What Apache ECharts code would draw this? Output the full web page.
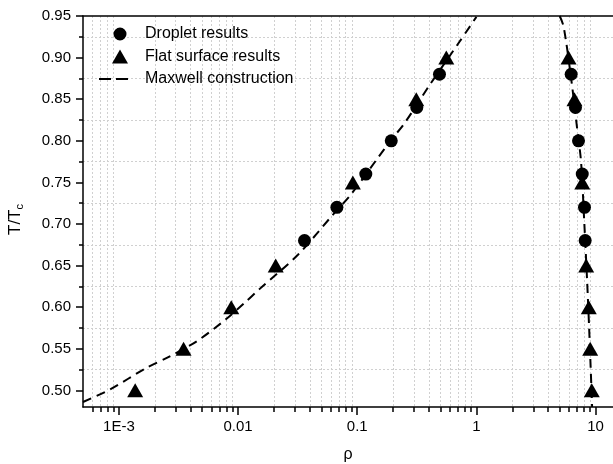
<!DOCTYPE html>
<html>
<head>
<meta charset="utf-8">
<script src="https://cdn.jsdelivr.net/npm/echarts@6/dist/echarts.min.js"></script>
<style>html,body{margin:0;padding:0;background:#fff}#c{width:613px;height:464px}</style>
</head>
<body>
<div id="c"></div>
<script>
// ---- data ----
const dropletLeft  = [[0.0361,0.68],[0.0675,0.72],[0.118,0.76],[0.193,0.80],[0.316,0.84],[0.49,0.88]];
const dropletRight = [[8.18,0.68],[8.07,0.72],[7.73,0.76],[7.19,0.80],[6.78,0.84],[6.24,0.88]];
const flatLeft  = [[0.00137,0.50],[0.00349,0.55],[0.00877,0.60],[0.0207,0.65],[0.0919,0.75],[0.313,0.85],[0.559,0.90]];
const flatRight = [[9.29,0.50],[9.01,0.55],[8.77,0.60],[8.34,0.65],[7.73,0.75],[6.65,0.85],[5.93,0.90]];
const maxwellLeft = [[5.0e-4,0.486],[8.4e-4,0.501],[1.7e-3,0.527],[2.6e-3,0.540],[4.5e-3,0.559],[8.0e-3,0.586],
  [0.0113,0.605],[0.0152,0.622],[0.0318,0.663],[0.0624,0.711],[0.0891,0.736],[0.15,0.78],[0.19,0.80],
  [0.249,0.821],[0.405,0.867],[0.721,0.919],[1.0,0.949]];
const maxwellRight = [[5.0,0.95],[5.4,0.937],[6.3,0.87],[7.0,0.815],[7.55,0.775],[8.05,0.70],[8.5,0.63],
  [8.8,0.58],[9.05,0.535],[9.3,0.49],[9.35,0.48]];
const xMajorTicks = [0.001,0.01,0.1,1,10];
const xMinorTicks = [6e-4,7e-4,8e-4,9e-4,2e-3,3e-3,4e-3,5e-3,6e-3,7e-3,8e-3,9e-3,
  0.02,0.03,0.04,0.05,0.06,0.07,0.08,0.09,0.2,0.3,0.4,0.5,0.6,0.7,0.8,0.9,
  2,3,4,5,6,7,8,9];
const yMajorTicks = [0.50,0.55,0.60,0.65,0.70,0.75,0.80,0.85,0.90,0.95];
const yMinorTicks = [0.525,0.575,0.625,0.675,0.725,0.775,0.825,0.875,0.925];

const FONT = 'Liberation Sans, Arial, sans-serif';
const chart = echarts.init(document.getElementById('c'), null, {renderer:'canvas'});
const gridLine = {show:true, lineStyle:{color:'#d0d0d0', type:[2,2], width:1}};
const xCommon = {type:'log', logBase:10, min:5e-4, max:14, gridIndex:0};
const yCommon = {type:'value', min:0.48, max:0.95, gridIndex:0};
// legend icons drawn inside a 30x14 box (corner specks fix the box size)
const BOX = ' M0,0h0.01v0.01z M29.99,13.99h0.01v0.01z';
const iconCircle = 'path://M14.5,7a6.5,6.5 0 1,0 13,0a6.5,6.5 0 1,0 -13,0Z' + BOX;
const iconTriangle = 'path://M13,14L21,0L29,14Z' + BOX;
const iconDash = 'path://M0,6h12v2h-12z M17,6h12v2h-12z' + BOX;

chart.setOption({
  animation:false,
  backgroundColor:'#fff',
  textStyle:{fontFamily:FONT},
  grid:{left:83, right:0, top:16, bottom:57, containLabel:false, outerBoundsMode:'none'},
  legend:{
    orient:'vertical', left:94, top:21, itemWidth:30, itemHeight:14, itemGap:6.5,
    textStyle:{fontSize:16, color:'#000', fontFamily:FONT, padding:[0,0,0,11]},
    data:[{name:'Droplet results', icon:iconCircle},{name:'Flat surface results', icon:iconTriangle},{name:'Maxwell construction', icon:iconDash}]
  },
  xAxis:[
    Object.assign({}, xCommon, {
      position:'bottom',
      name:'ρ', nameLocation:'middle', nameGap:40,
      nameTextStyle:{fontSize:16, color:'#000', fontFamily:FONT},
      axisLine:{show:true, onZero:false, lineStyle:{color:'#000', width:1.5}},
      axisTick:{show:true, inside:false, length:8, lineStyle:{color:'#000', width:1.5}},
      axisLabel:{show:true, margin:12, fontSize:15, color:'#000', fontFamily:FONT,
        showMinLabel:false, showMaxLabel:false,
        formatter:function(v){ if (Math.abs(v-0.001)<1e-9) return '1E-3'; const s=String(+v.toPrecision(3)); return xMajorTicks.some(t=>Math.abs(t-v)/t<1e-6)?s:''; }},
      splitLine:{show:false}, minorTick:{show:false}
    }),
    Object.assign({}, xCommon, {
      position:'bottom',
      axisLine:{show:false, onZero:false},
      axisTick:{show:true, inside:false, length:5, customValues:xMinorTicks, lineStyle:{color:'#000', width:1.5}},
      axisLabel:{show:false},
      splitLine:gridLine
    }),
    Object.assign({}, xCommon, {
      position:'top',
      axisLine:{show:true, onZero:false, lineStyle:{color:'#000', width:1.5}},
      axisTick:{show:false}, axisLabel:{show:false}, splitLine:{show:false}
    })
  ],
  yAxis:[
    Object.assign({}, yCommon, {
      position:'left',
      name:'T/T{sub|c}', nameLocation:'middle', nameGap:58, nameRotate:90,
      nameTextStyle:{fontSize:17, color:'#000', fontFamily:FONT, padding:[0,16,0,0],
        rich:{sub:{fontSize:11, color:'#000', fontFamily:FONT, padding:[9,0,0,0]}}},
      axisLine:{show:true, onZero:false, lineStyle:{color:'#000', width:1.5}},
      axisTick:{show:true, inside:false, length:7, customValues:yMajorTicks, lineStyle:{color:'#000', width:1.5}},
      axisLabel:{show:true, margin:12, fontSize:15, color:'#000', fontFamily:FONT, customValues:yMajorTicks,
        formatter:function(v){return v.toFixed(2);}},
      splitLine:{show:false}
    }),
    Object.assign({}, yCommon, {
      position:'left',
      axisLine:{show:false, onZero:false},
      axisTick:{show:true, inside:false, length:4, customValues:yMinorTicks, lineStyle:{color:'#000', width:1.5}},
      axisLabel:{show:false},
      splitLine:gridLine
    })
  ],
  series:[
    {name:'Maxwell construction', type:'line', xAxisIndex:0, yAxisIndex:0, data:maxwellLeft, smooth:0.3,
      showSymbol:false, symbol:'none', lineStyle:{color:'#000', width:2, type:[9,6]}, itemStyle:{color:'#000'}, z:2},
    {name:'Maxwell construction', type:'line', xAxisIndex:0, yAxisIndex:0, data:maxwellRight, smooth:0.3,
      showSymbol:false, symbol:'none', lineStyle:{color:'#000', width:2, type:[9,6]}, itemStyle:{color:'#000'}, z:2},
    {name:'Droplet results', type:'scatter', xAxisIndex:0, yAxisIndex:0, data:dropletLeft.concat(dropletRight),
      symbol:'circle', symbolSize:13, itemStyle:{color:'#000', opacity:1}, z:3},
    {name:'Flat surface results', type:'scatter', xAxisIndex:0, yAxisIndex:0, data:flatLeft.concat(flatRight),
      symbol:'triangle', symbolSize:[16,14], itemStyle:{color:'#000', opacity:1}, z:4}
  ]
});
</script>
</body>
</html>
